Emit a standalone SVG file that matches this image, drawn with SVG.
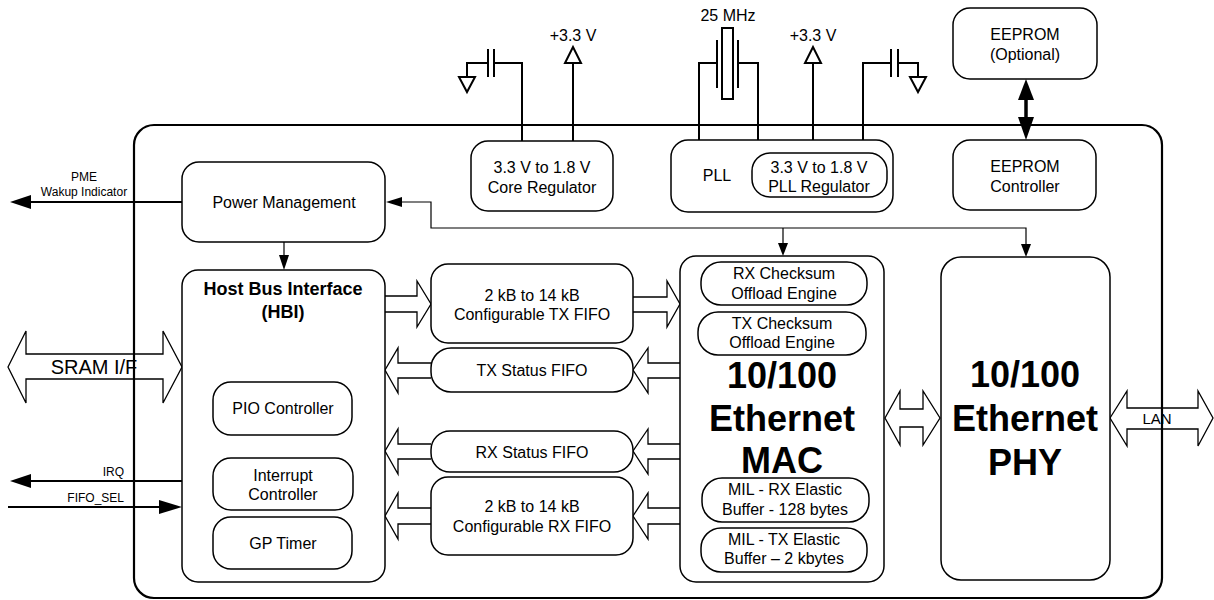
<svg xmlns="http://www.w3.org/2000/svg" width="1214" height="600" viewBox="0 0 1214 600">
<style>
text{font-family:"Liberation Sans",Arial,sans-serif;fill:#000;text-anchor:middle}
.t16{font-size:16px}
.t12{font-size:12px}
.b18{font-size:18px;font-weight:bold}
.b36{font-size:36px;font-weight:bold}
.box{fill:#fff;stroke:#000;stroke-width:1.5}
.wire{fill:none;stroke:#000;stroke-width:2}
.thin{fill:none;stroke:#000;stroke-width:1.2}
.blk{fill:#fff;stroke:#000;stroke-width:1.3}
.open{fill:none;stroke:#000;stroke-width:1.3}
.head{fill:#000;stroke:none}
</style>
<rect width="1214" height="600" fill="#fff"/>

<!-- outer chip -->
<rect id="chip" x="134" y="125" width="1028" height="473" rx="20" fill="none" stroke="#000" stroke-width="2.2"/>

<!-- top external circuitry -->
<g id="ext-core">
<path class="wire" d="M522 141 V63 H494 M488 63 H467 V77"/>
<path class="wire" d="M488 49 V77 M494 49 V77"/>
<polygon points="459,77 475,77 467,92" fill="#fff" stroke="#000" stroke-width="2"/>
<path class="wire" d="M573 141 V63"/>
<polygon points="565,63 581,63 573,47" fill="#fff" stroke="#000" stroke-width="2"/>
<text class="t16" x="573" y="41">+3.3 V</text>
</g>
<g id="ext-pll">
<path class="wire" d="M699 141 V63 H717 M738 63 H758 V141"/>
<path class="wire" d="M717 40 V88 M738 40 V88"/>
<rect x="722" y="28" width="11" height="71" fill="#fff" stroke="#000" stroke-width="2"/>
<text class="t16" x="728" y="21">25 MHz</text>
<path class="wire" d="M813 153 V63"/>
<polygon points="805,63 821,63 813,47" fill="#fff" stroke="#000" stroke-width="2"/>
<text class="t16" x="813" y="41">+3.3 V</text>
<path class="wire" d="M863 153 V63 H891 M898 63 H918 V77"/>
<path class="wire" d="M891 49 V77 M898 49 V77"/>
<polygon points="910,77 926,77 918,92" fill="#fff" stroke="#000" stroke-width="2"/>
</g>

<!-- connectors -->
<g id="connectors">
<!-- PME -->
<line class="wire" x1="182" y1="202" x2="28" y2="202"/>
<polygon class="head" points="10,202 31,195 31,209"/>
<text class="t12" x="84" y="181">PME</text>
<text class="t12" x="84" y="196">Wakup Indicator</text>
<!-- IRQ -->
<line class="wire" x1="182" y1="481" x2="28" y2="481"/>
<polygon class="head" points="10,481 31,474 31,488"/>
<text class="t12" x="124" y="476" style="text-anchor:end">IRQ</text>
<!-- FIFO_SEL -->
<line class="wire" x1="8" y1="507" x2="162" y2="507"/>
<polygon class="head" points="182,507 159,500 159,514"/>
<text class="t12" x="124" y="502" style="text-anchor:end">FIFO_SEL</text>
<!-- PM to HBI -->
<line class="thin" x1="284" y1="242" x2="284" y2="256"/>
<polygon class="head" points="284,270 279,255 289,255"/>
<!-- bus from PM -->
<path class="thin" d="M401 202 H431 V228 H1026 V245 M783 228 V245"/>
<polygon class="head" points="386,202 402,197 402,207"/>
<polygon class="head" points="783,256 778,243 788,243"/>
<polygon class="head" points="1026,257 1021,244 1031,244"/>
<!-- EEPROM double arrow -->
<line x1="1026" y1="96" x2="1026" y2="120" stroke="#000" stroke-width="3.5"/>
<polygon class="head" points="1026,79 1018,100 1034,100"/>
<polygon class="head" points="1026,140 1018,117 1034,117"/>
<!-- SRAM I/F -->
<path class="open" d="M8 367 L26 331 V354 H163 V331 L182 367 L163 403 V379 H26 V403 Z"/>
<text x="94" y="374" style="font-size:20px">SRAM I/F</text>
<!-- HBI -> TX FIFO -->
<path class="blk" d="M385 296 H417 V281 L431 304 L417 327 V312 H385"/>
<!-- TX FIFO -> MAC -->
<path class="blk" d="M633 297 H667 V281 L680 304 L667 327 V312 H633"/>
<!-- TX Status -->
<path class="blk" d="M680 363 H648 V348 L633 370 L648 393 V378 H680"/>
<path class="blk" d="M431 363 H398 V348 L385 370 L398 393 V378 H431"/>
<!-- RX Status -->
<path class="blk" d="M680 444 H648 V429 L633 451 L648 474 V459 H680"/>
<path class="blk" d="M431 444 H398 V429 L385 451 L398 474 V459 H431"/>
<!-- RX FIFO -->
<path class="blk" d="M680 508 H648 V493 L633 516 L648 539 V524 H680"/>
<path class="blk" d="M431 508 H398 V493 L385 516 L398 539 V524 H431"/>
<!-- MAC <-> PHY -->
<path class="blk" d="M885 418 L900 391 V409 H923 V391 L940 418 L923 445 V427 H900 V445 Z"/>
<!-- LAN -->
<path class="open" d="M1110 418 L1127 391 V408 H1198 V391 L1213 418 L1198 446 V429 H1127 V446 Z"/>
<text x="1157" y="424" style="font-size:15px">LAN</text>
</g>

<!-- nodes -->
<g id="eeprom">
<rect class="box" x="953" y="8" width="144" height="71" rx="17"/>
<text class="t16" x="1025" y="40">EEPROM</text>
<text class="t16" x="1025" y="60">(Optional)</text>
</g>
<g id="core-regulator">
<rect class="box" x="471" y="141" width="142" height="70" rx="17"/>
<text class="t16" x="542" y="173">3.3 V to 1.8 V</text>
<text class="t16" x="542" y="193">Core Regulator</text>
</g>
<g id="pll">
<rect class="box" x="671" y="140" width="222" height="72" rx="17"/>
<text class="t16" x="717" y="181">PLL</text>
</g>
<g id="pll-regulator">
<rect class="box" x="752" y="153" width="135" height="44" rx="18"/>
<text class="t16" x="819" y="173">3.3 V to 1.8 V</text>
<text class="t16" x="819" y="192">PLL Regulator</text>
</g>
<g id="eeprom-controller">
<rect class="box" x="953" y="140" width="143" height="70" rx="17"/>
<text class="t16" x="1025" y="172">EEPROM</text>
<text class="t16" x="1025" y="192">Controller</text>
</g>
<g id="power-management">
<rect class="box" x="182" y="162" width="203" height="80" rx="17"/>
<text class="t16" x="284" y="208">Power Management</text>
</g>
<g id="hbi">
<rect class="box" x="182" y="270" width="203" height="312" rx="16"/>
<text class="b18" x="283" y="295">Host Bus Interface</text>
<text class="b18" x="283" y="318">(HBI)</text>
</g>
<g id="pio">
<rect class="box" x="213" y="382" width="139" height="53" rx="18"/>
<text class="t16" x="283" y="414">PIO Controller</text>
</g>
<g id="interrupt">
<rect class="box" x="213" y="458" width="140" height="52" rx="18"/>
<text class="t16" x="283" y="481">Interrupt</text>
<text class="t16" x="283" y="500">Controller</text>
</g>
<g id="gp-timer">
<rect class="box" x="213" y="517" width="139" height="52" rx="18"/>
<text class="t16" x="283" y="549">GP Timer</text>
</g>
<g id="tx-fifo">
<rect class="box" x="431" y="264" width="202" height="79" rx="17"/>
<text class="t16" x="532" y="301">2 kB to 14 kB</text>
<text class="t16" x="532" y="320">Configurable TX FIFO</text>
</g>
<g id="tx-status">
<rect class="box" x="431" y="348" width="202" height="44" rx="20"/>
<text class="t16" x="532" y="376">TX Status FIFO</text>
</g>
<g id="rx-status">
<rect class="box" x="431" y="431" width="202" height="41" rx="19"/>
<text class="t16" x="532" y="458">RX Status FIFO</text>
</g>
<g id="rx-fifo">
<rect class="box" x="431" y="477" width="202" height="78" rx="17"/>
<text class="t16" x="532" y="512">2 kB to 14 kB</text>
<text class="t16" x="532" y="532">Configurable RX FIFO</text>
</g>
<g id="mac">
<rect class="box" x="680" y="256" width="204" height="326" rx="16"/>
<text class="b36" x="782" y="388">10/100</text>
<text class="b36" x="782" y="431">Ethernet</text>
<text class="b36" x="782" y="473">MAC</text>
</g>
<g id="rx-checksum">
<rect class="box" x="701" y="262" width="166" height="43" rx="20"/>
<text class="t16" x="784" y="279">RX Checksum</text>
<text class="t16" x="784" y="299">Offload Engine</text>
</g>
<g id="tx-checksum">
<rect class="box" x="698" y="312" width="168" height="43" rx="20"/>
<text class="t16" x="782" y="329">TX Checksum</text>
<text class="t16" x="782" y="348">Offload Engine</text>
</g>
<g id="mil-rx">
<rect class="box" x="702" y="478" width="167" height="44" rx="20"/>
<text class="t16" x="785" y="495">MIL - RX Elastic</text>
<text class="t16" x="785" y="515">Buffer - 128 bytes</text>
</g>
<g id="mil-tx">
<rect class="box" x="701" y="528" width="166" height="44" rx="20"/>
<text class="t16" x="784" y="545">MIL - TX Elastic</text>
<text class="t16" x="784" y="564">Buffer – 2 kbytes</text>
</g>
<g id="phy">
<rect class="box" x="941" y="257" width="169" height="323" rx="20"/>
<text class="b36" x="1025" y="387">10/100</text>
<text class="b36" x="1025" y="431">Ethernet</text>
<text class="b36" x="1025" y="475">PHY</text>
</g>
</svg>
